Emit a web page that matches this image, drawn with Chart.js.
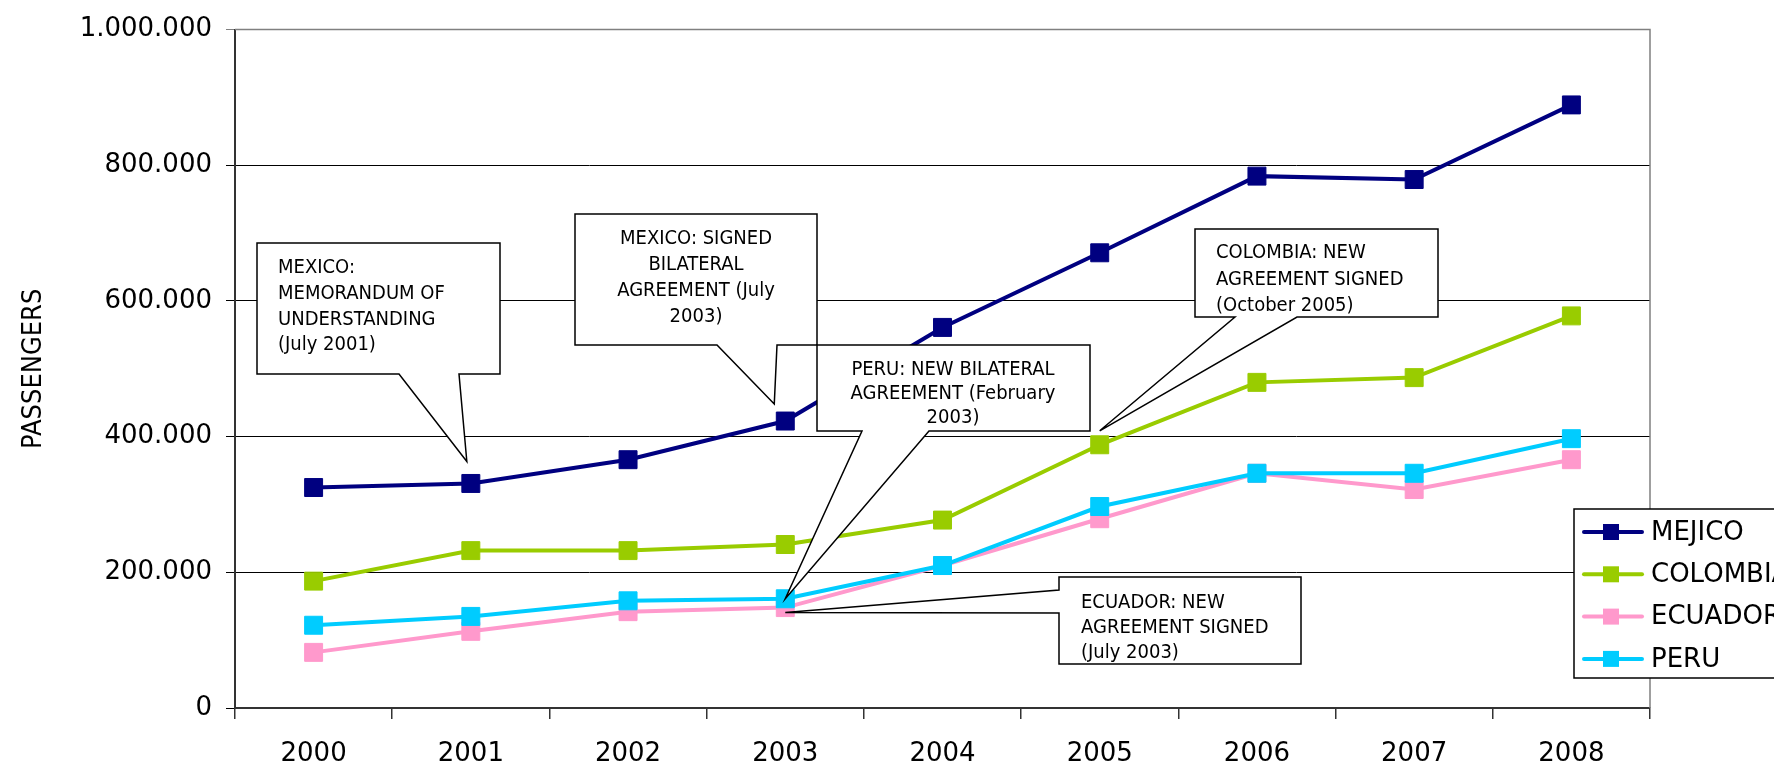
<!DOCTYPE html>
<html>
<head>
<meta charset="utf-8">
<script src="https://cdn.jsdelivr.net/npm/chart.js@4.4.1/dist/chart.umd.min.js"></script>
<style>
  html, body { margin: 0; padding: 0; background: #fff; }
  #wrap { width: 1774px; height: 773px; position: relative; }
</style>
</head>
<body>
<div id="wrap"><canvas id="c"></canvas></div>
<script>
// x axis categories
const years = ['2000', '2001', '2002', '2003', '2004', '2005', '2006', '2007', '2008'];
// passengers per year
const mejico   = [325000, 331000, 366000, 423000, 561000, 671000, 784000, 779000, 889000];
const colombia = [187000, 232000, 232000, 241000, 277000, 388000, 480000, 487000, 578000];
const ecuador  = [82000, 113000, 142000, 148000, 210000, 279000, 346000, 322000, 366000];
const peru     = [122000, 135000, 158000, 161000, 210000, 297000, 346000, 346000, 397000];
const seriesNames = ['MEJICO', 'COLOMBIA', 'ECUADOR', 'PERU'];
const seriesColors = ['#000080', '#99CC00', '#FF99CC', '#00CCFF'];
// y axis range
const yMin = 0, yMax = 1000000, yStep = 200000;

const CONDENSED = "'DejaVu Sans Condensed', 'DejaVu Sans'";

// callout boxes (text + where the wedge points)
const notes = [
  { text: ['MEXICO:', 'MEMORANDUM OF', 'UNDERSTANDING', '(July 2001)'], align: 'left',
    box: [257, 243, 500, 374], wedge: ['bottom', 399, 459], tip: [0, 1, -4, -22], tx: 278, ty: 268, gap: 25.7 },
  { text: ['MEXICO: SIGNED', 'BILATERAL', 'AGREEMENT (July', '2003)'], align: 'center',
    box: [575, 214, 817, 345], wedge: ['bottom', 717, 777], tip: [0, 3, -11, -17], tx: 696, ty: 239, gap: 26 },
  { text: ['PERU: NEW BILATERAL', 'AGREEMENT (February', '2003)'], align: 'center',
    box: [817, 345, 1090, 431], wedge: ['bottom', 862, 929], tip: [3, 3, 0, 0], tx: 953, ty: 370, gap: 24 },
  { text: ['COLOMBIA: NEW', 'AGREEMENT SIGNED', '(October 2005)'], align: 'left',
    box: [1195, 229, 1438, 317], wedge: ['bottom', 1235, 1297], tip: [1, 5, 0, -14], tx: 1216, ty: 253, gap: 26.5 },
  { text: ['ECUADOR: NEW', 'AGREEMENT SIGNED', '(July 2003)'], align: 'left',
    box: [1059, 577, 1301, 664], wedge: ['left', 590, 613], tip: [2, 3, 0, 5], tx: 1081, ty: 603, gap: 25 }
];

function fmt(v) {
  return String(v).replace(/\B(?=(\d{3})+(?!\d))/g, '.');
}

// right and top frame of the plot area
const frame = {
  id: 'frame',
  beforeDatasetsDraw(chart) {
    const { ctx, chartArea: a } = chart;
    ctx.save();
    ctx.strokeStyle = '#808080';
    ctx.lineWidth = 1.5;
    ctx.beginPath();
    ctx.moveTo(a.left, a.top);
    ctx.lineTo(a.right, a.top);
    ctx.lineTo(a.right, a.bottom);
    ctx.stroke();
    ctx.restore();
  }
};

// speech-bubble notes over the lines
const callouts = {
  id: 'callouts',
  afterDatasetsDraw(chart) {
    const { ctx } = chart;
    const xs = chart.scales.x, ys = chart.scales.y;
    ctx.save();
    notes.forEach(n => {
      const [L, T, R, B] = n.box;
      const ds = chart.data.datasets[n.tip[0]];
      const px = xs.getPixelForValue(n.tip[1]) + n.tip[2];
      const py = ys.getPixelForValue(ds.data[n.tip[1]]) + n.tip[3];
      ctx.beginPath();
      ctx.moveTo(L, T);
      ctx.lineTo(R, T);
      ctx.lineTo(R, B);
      if (n.wedge[0] === 'bottom') {
        ctx.lineTo(n.wedge[2], B);
        ctx.lineTo(px, py);
        ctx.lineTo(n.wedge[1], B);
        ctx.lineTo(L, B);
      } else {
        ctx.lineTo(L, B);
        ctx.lineTo(L, n.wedge[2]);
        ctx.lineTo(px, py);
        ctx.lineTo(L, n.wedge[1]);
      }
      ctx.closePath();
      ctx.fillStyle = '#fff';
      ctx.fill();
      ctx.strokeStyle = '#000';
      ctx.lineWidth = 1.5;
      ctx.stroke();

      ctx.fillStyle = '#000';
      ctx.font = '20px ' + CONDENSED;
      ctx.textAlign = n.align;
      ctx.textBaseline = 'middle';
      n.text.forEach((t, i) => ctx.fillText(t, n.tx, n.ty + i * n.gap));
    });
    ctx.restore();
  }
};

// legend box on the right, partly off the page
const sideLegend = {
  id: 'sideLegend',
  afterDraw(chart) {
    const { ctx } = chart;
    ctx.save();
    ctx.fillStyle = '#fff';
    ctx.strokeStyle = '#000';
    ctx.lineWidth = 1.5;
    ctx.beginPath();
    ctx.rect(1574, 509, 260, 169);
    ctx.fill();
    ctx.stroke();
    chart.data.datasets.forEach((ds, i) => {
      const y = 532 + i * 42.3;
      ctx.strokeStyle = ds.borderColor;
      ctx.lineWidth = 4;
      ctx.lineCap = 'round';
      ctx.beginPath();
      ctx.moveTo(1584, y);
      ctx.lineTo(1642, y);
      ctx.stroke();
      ctx.fillStyle = ds.borderColor;
      ctx.fillRect(1603, y - 8, 16, 16);
      ctx.fillStyle = '#000';
      ctx.font = '26px DejaVu Sans';
      ctx.textAlign = 'left';
      ctx.textBaseline = 'middle';
      ctx.fillText(ds.label, 1651, y + 1);
    });
    ctx.restore();
  }
};

const allSeries = [mejico, colombia, ecuador, peru];
const drawOrder = [1, 2, 4, 3];

new Chart(document.getElementById('c'), {
  type: 'line',
  data: {
    labels: years,
    datasets: allSeries.map((d, i) => ({
      label: seriesNames[i],
      data: d,
      borderColor: seriesColors[i],
      backgroundColor: seriesColors[i],
      borderWidth: 4,
      pointStyle: 'rect',
      pointRadius: 12.7,
      pointBorderWidth: 1,
      pointBorderColor: seriesColors[i],
      tension: 0,
      order: drawOrder[i]
    }))
  },
  options: {
    responsive: true,
    maintainAspectRatio: false,
    animation: false,
    layout: { padding: { top: 29, right: 124, left: 0, bottom: 0 } },
    plugins: {
      legend: { display: false },
      tooltip: { enabled: false }
    },
    scales: {
      x: {
        offset: true,
        grid: { offset: true, drawOnChartArea: false, tickLength: 11, color: '#333', lineWidth: 1.5 },
        border: { color: '#333', width: 2 },
        ticks: { color: '#000', font: { size: 26, family: 'DejaVu Sans' }, padding: 20, maxRotation: 0 },
        afterFit(s) { s.height = 65; }
      },
      y: {
        min: yMin,
        max: yMax,
        grid: {
          tickLength: 9,
          lineWidth: 1,
          color: c => (c.tick && c.tick.value === yMax) ? '#808080' : '#000'
        },
        border: { color: '#333', width: 2 },
        ticks: {
          stepSize: yStep,
          color: '#000',
          padding: 14,
          font: { size: 26, family: 'DejaVu Sans' },
          callback: v => fmt(v)
        },
        title: {
          display: true,
          text: 'PASSENGERS',
          color: '#000',
          font: { size: 27, family: CONDENSED, lineHeight: 1.2 },
          padding: { top: 18, bottom: 0 }
        },
        afterFit(s) { s.width = 235; }
      }
    }
  },
  plugins: [frame, callouts, sideLegend]
});
</script>
</body>
</html>
